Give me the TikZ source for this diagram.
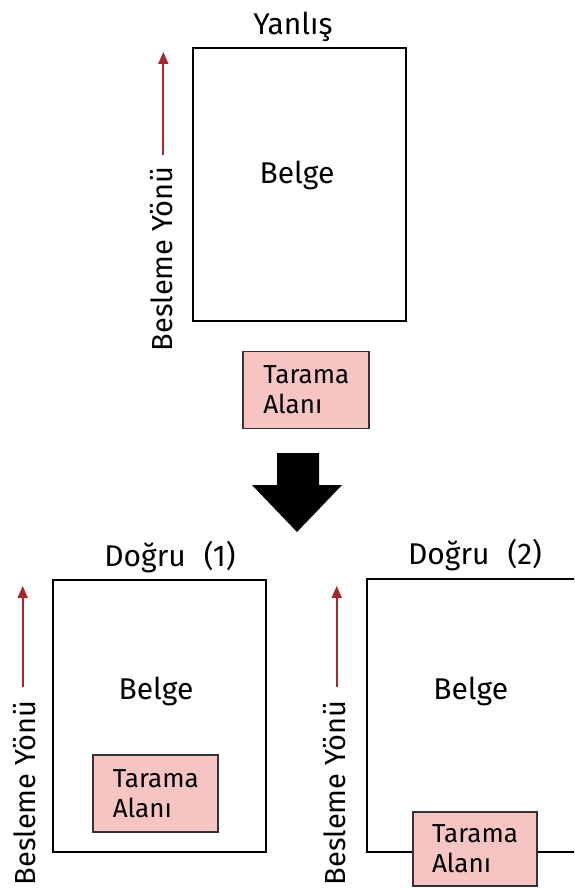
\documentclass[tikz,border=0pt]{standalone}
\usepackage{fontspec}
\setmainfont{Fira Sans}
\usetikzlibrary{arrows.meta}
\definecolor{pinkfill}{HTML}{F7C4C4}
\definecolor{feedred}{HTML}{A5262E}
\begin{document}
\begin{tikzpicture}[x=1pt,y=-1pt,
  doc/.style={draw=black,line width=1.7pt,minimum width=#1,inner sep=0pt},
  scan/.style={draw=black!80,line width=1.7pt,fill=pinkfill,align=left,inner sep=0pt,
     font=\fontsize{26}{30}\selectfont},
  lbl/.style={font=\fontsize{30}{34}\selectfont,inner sep=0pt},
  feed/.style={font=\fontsize{29}{32}\selectfont,inner sep=0pt,rotate=90},
  feedarrow/.style={draw=feedred,line width=1.8pt,-{Triangle[length=12pt,width=10pt]}}]
\clip (0,0) rectangle (574,888);
\fill[white] (0,0) rectangle (574,888);
% top: wrong
\node[doc=213pt,minimum height=273pt] (d0) at (299.5,184.5) {};
\node[lbl] (t0) at (293,27) {Yanlış};
\node[lbl] (b0) at (297,175) {Belge};
\node[scan,minimum width=126pt,minimum height=77pt] (s0) at (306.3,390) {Tarama\\Alanı};
\coordinate (f0a) at (163.3,155);
\coordinate (f0b) at (163.3,52);
\draw[feedarrow] (f0a) -- (f0b);
\node[feed] (l0) at (161.7,259) {Besleme Yönü};
% big arrow
\fill[black] (277,453) -- (319,453) -- (319,485) -- (342,485) -- (297,532) -- (252,485) -- (277,485) -- cycle;
% bottom left
\node[doc=213pt,minimum height=272pt] (d1) at (159.7,715.8) {};
\node[lbl] (t1) at (170,557) {Doğru\hspace{0.6em}(1)};
\node[lbl] (b1) at (156,691.7) {Belge};
\node[scan,minimum width=125pt,minimum height=77pt] (s1) at (155.8,793.3) {Tarama\\Alanı};
\coordinate (f1a) at (22.7,687);
\coordinate (f1b) at (22.7,586);
\draw[feedarrow] (f1a) -- (f1b);
\node[feed] (l1) at (25,793) {Besleme Yönü};
% bottom right
\node[doc=240pt,minimum height=273pt] (d2) at (487,715.8) {};
\node[lbl] (t2) at (475,555) {Doğru\hspace{0.6em}(2)};
\node[lbl] (b2) at (470.7,691.7) {Belge};
\node[scan,minimum width=124pt,minimum height=74pt] (s2) at (475,848.8) {Tarama\\Alanı};
\coordinate (f2a) at (336.7,687);
\coordinate (f2b) at (336.7,586);
\draw[feedarrow] (f2a) -- (f2b);
\node[feed] (l2) at (335,793) {Besleme Yönü};
\end{tikzpicture}
\end{document}
